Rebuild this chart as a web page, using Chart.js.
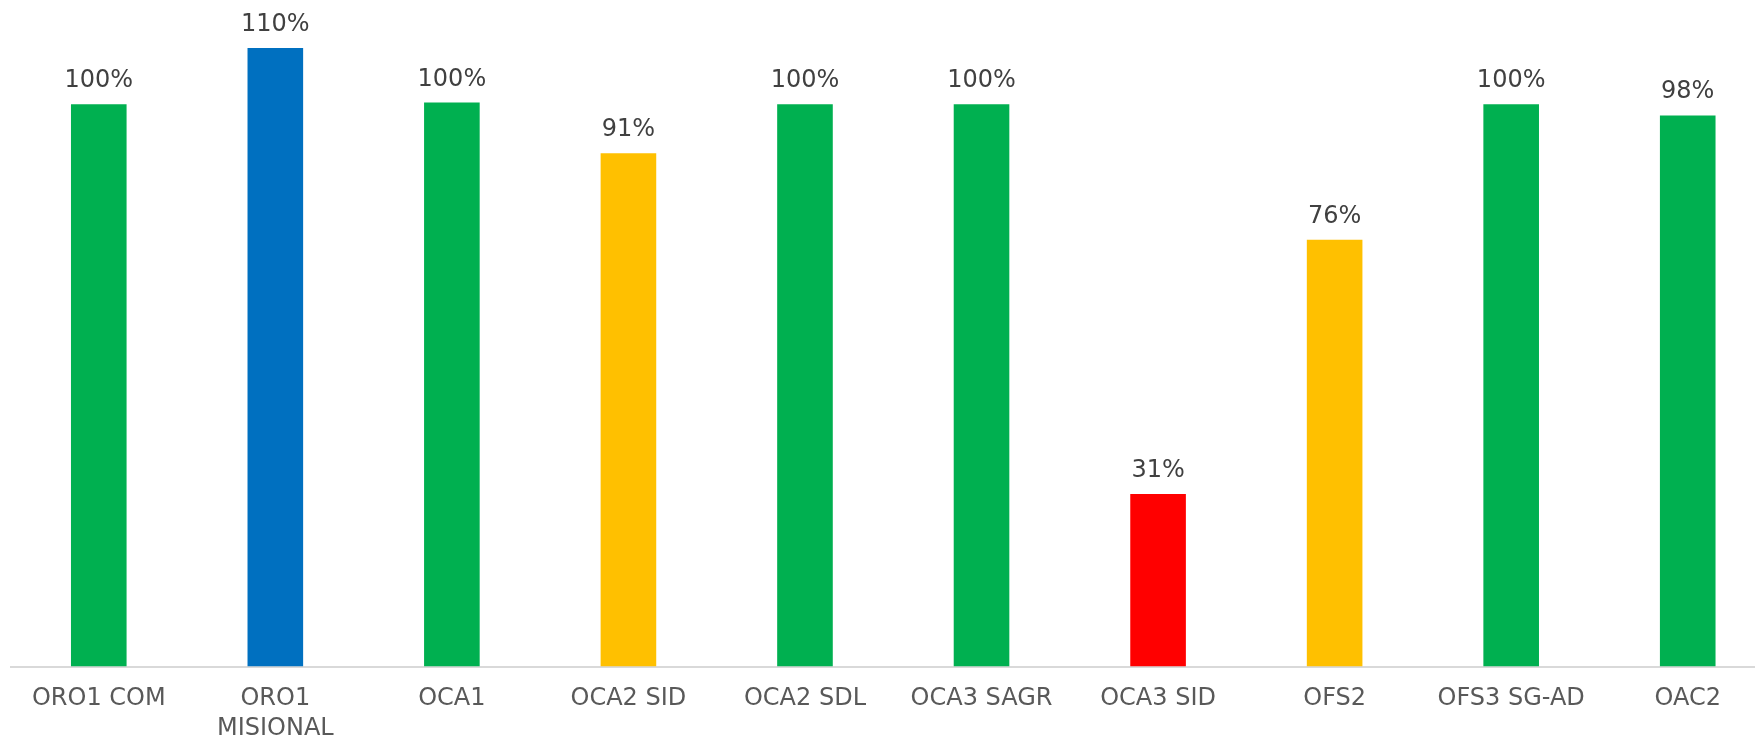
<!DOCTYPE html>
<html>
<head>
<meta charset="utf-8">
<script src="https://cdn.jsdelivr.net/npm/chart.js@4/dist/chart.umd.min.js"></script>
<style>
  html, body { margin: 0; padding: 0; background: #ffffff; overflow: hidden; }
  #wrap { position: relative; width: 1776px; height: 739px; }
</style>
</head>
<body>
<div id="wrap"><canvas id="c"></canvas></div>
<script>
const categories = [["ORO1 COM"], ["ORO1", "MISIONAL"], ["OCA1"], ["OCA2 SID"], ["OCA2 SDL"], ["OCA3 SAGR"], ["OCA3 SID"], ["OFS2"], ["OFS3 SG-AD"], ["OAC2"]];
const values = [100, 110, 100.3, 91.3, 100, 100, 30.7, 75.9, 100, 98];
const barColors = ["#00B050", "#0070C0", "#00B050", "#FFC000", "#00B050", "#00B050", "#FF0000", "#FFC000", "#00B050", "#00B050"];

const FONT = "'DejaVu Sans', Verdana, sans-serif";

const valueLabels = {
  id: 'valueLabels',
  afterDatasetsDraw(chart) {
    const ctx = chart.ctx;
    const meta = chart.getDatasetMeta(0);
    ctx.save();
    ctx.font = "24px " + FONT;
    ctx.fillStyle = "#404040";
    ctx.textAlign = "center";
    ctx.textBaseline = "alphabetic";
    meta.data.forEach((bar, i) => {
      ctx.fillText(Math.round(values[i]) + "%", bar.x, bar.y - 17);
    });
    ctx.restore();
  }
};

new Chart(document.getElementById('c'), {
  type: 'bar',
  data: {
    labels: categories,
    datasets: [{
      data: values,
      backgroundColor: barColors,
      borderWidth: 0,
      categoryPercentage: 1,
      barPercentage: 0.315
    }]
  },
  options: {
    responsive: true,
    maintainAspectRatio: false,
    animation: false,
    layout: { padding: { left: 10.5, right: 0, top: 3, bottom: 0 } },
    plugins: { legend: { display: false }, tooltip: { enabled: false } },
    scales: {
      x: {
        grid: { display: false, drawTicks: false },
        border: { display: true, color: '#d9d9d9', width: 2 },
        ticks: {
          color: '#595959',
          font: { family: FONT, size: 24, lineHeight: 1.25 },
          padding: 17,
          maxRotation: 0,
          autoSkip: false
        },
        afterFit(scale) { scale.height = 72.5; }
      },
      y: {
        display: false,
        min: 0,
        max: 118,
        beginAtZero: true
      }
    }
  },
  plugins: [valueLabels]
});
</script>
</body>
</html>
